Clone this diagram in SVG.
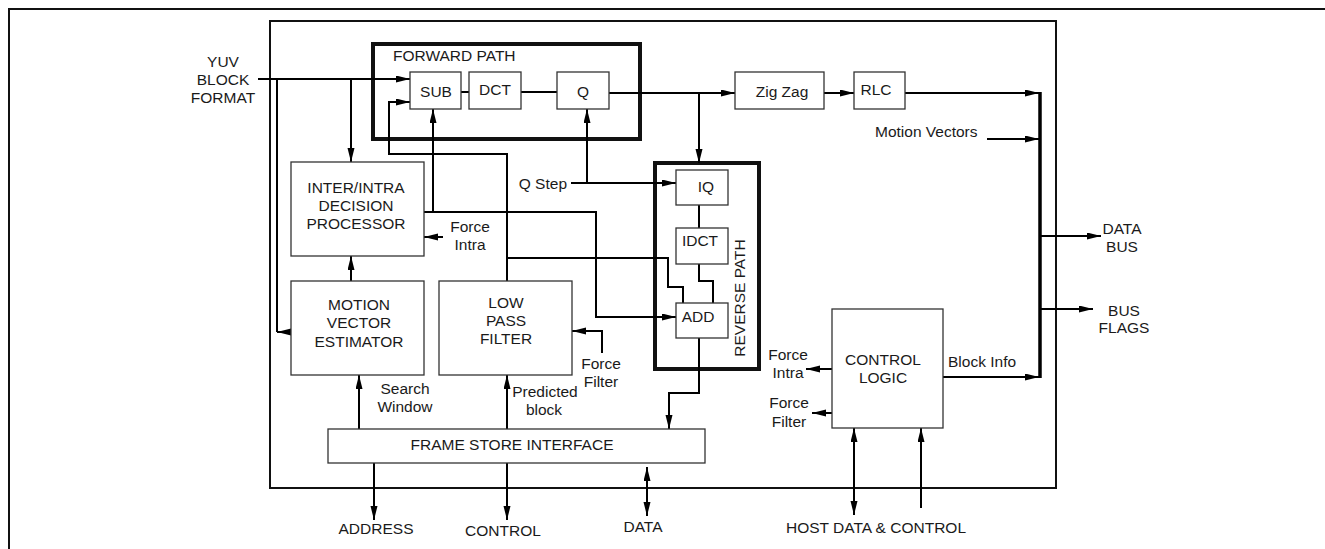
<svg xmlns="http://www.w3.org/2000/svg" width="1325" height="549" viewBox="0 0 1325 549">
<style>
text{font-family:"Liberation Sans",Arial,sans-serif;font-size:15.5px;fill:#1a1a1a}
.m{text-anchor:middle}
.box{fill:#fff;stroke:#333;stroke-width:1.3}
.frame{fill:none;stroke:#111;stroke-width:4}
.c{fill:none;stroke:#000;stroke-width:2}
.a{marker-end:url(#ah)}
.d{marker-start:url(#ah);marker-end:url(#ah)}
</style>
<defs>
<marker id="ah" markerUnits="userSpaceOnUse" markerWidth="15" markerHeight="8" refX="14" refY="3.5" orient="auto-start-reverse">
<path d="M0,0 L14,3.5 L0,7 z" fill="#000"/>
</marker>
</defs>
<path d="M9,549 V9 H1325" fill="none" stroke="#111" stroke-width="2"/>
<rect x="270" y="21" width="786" height="467" fill="none" stroke="#111" stroke-width="2"/>
<g id="forward-path"><rect class="frame" x="373" y="44" width="267" height="95"/><text x="393" y="61">FORWARD PATH</text></g>
<g id="reverse-path"><rect class="frame" x="655" y="163" width="104" height="206"/><text class="m" transform="translate(745,298) rotate(-90)">REVERSE PATH</text></g>
<g id="connectors">
<path class="c a" d="M258,79 H410"/>
<path class="c" d="M277,79 V332"/>
<path class="c a" d="M291,332 H277"/>
<path class="c a" d="M351,79 V162"/>
<path class="c a" d="M351,281 V256"/>
<path class="c a" d="M571,183 H676"/>
<path class="c a" d="M587,183 V109"/>
<path class="c a" d="M424,212 H596 V317 H676"/>
<path class="c a" d="M433,212 V109"/>
<path class="c a" d="M507,281 V154 H389 V102 H410"/>
<path class="c" d="M507,258 H668 V287 H683 V303"/>
<path class="c" d="M699,205 V228"/>
<path class="c" d="M699,264 V281 H713 V303"/>
<path class="c a" d="M699,338 V393 H669 V429"/>
<path class="c" d="M461,92 H469"/>
<path class="c" d="M521,92 H557"/>
<path class="c a" d="M609,93 H735"/>
<path class="c a" d="M699,93 V163"/>
<path class="c a" d="M824,93 H854"/>
<path class="c a" d="M905,93 H1039"/>
<path class="c a" d="M987,139 H1039"/>
<path d="M1040,92 V378" fill="none" stroke="#000" stroke-width="3.5"/>
<path class="c a" d="M1040,236 H1101"/>
<path class="c a" d="M1040,309 H1093"/>
<path class="c a" d="M943,377 H1039"/>
<path class="c a" d="M832,369 H806"/>
<path class="c a" d="M832,413 H812"/>
<path class="c d" d="M854,428 V515"/>
<path class="c a" d="M921,508 V428"/>
<path class="c a" d="M443,237 H424"/>
<path class="c a" d="M602,353 V331 H572"/>
<path class="c a" d="M359,429 V375"/>
<path class="c a" d="M507,429 V375"/>
<path class="c a" d="M374,463 V520"/>
<path class="c a" d="M507,463 V520"/>
<path class="c d" d="M647,467 V516"/>
</g>
<g id="sub"><rect class="box" x="410" y="72" width="51" height="37"/><text class="m" x="436" y="97">SUB</text></g>
<g id="dct"><rect class="box" x="469" y="72" width="52" height="37"/><text class="m" x="495" y="95">DCT</text></g>
<g id="q"><rect class="box" x="557" y="72" width="52" height="37"/><text class="m" x="583" y="97">Q</text></g>
<g id="zigzag"><rect class="box" x="735" y="72" width="89" height="37"/><text class="m" x="782" y="97">Zig Zag</text></g>
<g id="rlc"><rect class="box" x="854" y="72" width="51" height="37"/><text class="m" x="876" y="95">RLC</text></g>
<g id="iq"><rect class="box" x="676" y="170" width="52" height="35"/><text class="m" x="706" y="192">IQ</text></g>
<g id="idct"><rect class="box" x="676" y="228" width="52" height="36"/><text class="m" x="700" y="246">IDCT</text></g>
<g id="add"><rect class="box" x="676" y="303" width="52" height="35"/><text class="m" x="698" y="322">ADD</text></g>
<g id="inter-intra"><rect class="box" x="291" y="162" width="133" height="94"/><text class="m" x="356" y="193">INTER/INTRA</text><text class="m" x="356" y="211">DECISION</text><text class="m" x="356" y="229">PROCESSOR</text></g>
<g id="mve"><rect class="box" x="291" y="281" width="133" height="94"/><text class="m" x="359" y="310">MOTION</text><text class="m" x="359" y="328">VECTOR</text><text class="m" x="359" y="347">ESTIMATOR</text></g>
<g id="lpf"><rect class="box" x="439" y="281" width="133" height="94"/><text class="m" x="506" y="308">LOW</text><text class="m" x="506" y="326">PASS</text><text class="m" x="506" y="344">FILTER</text></g>
<g id="control-logic"><rect class="box" x="832" y="309" width="111" height="119"/><text class="m" x="883" y="365">CONTROL</text><text class="m" x="883" y="383">LOGIC</text></g>
<g id="fsi"><rect class="box" x="328" y="429" width="377" height="34"/><text class="m" x="512" y="450">FRAME STORE INTERFACE</text></g>
<g id="labels">
<text class="m" x="223" y="67">YUV</text><text class="m" x="223" y="85">BLOCK</text><text class="m" x="223" y="103">FORMAT</text>
<text x="567" y="189" text-anchor="end">Q Step</text>
<text class="m" x="470" y="232">Force</text><text class="m" x="470" y="250">Intra</text>
<text x="875" y="137">Motion Vectors</text>
<text class="m" x="601" y="369">Force</text><text class="m" x="601" y="387">Filter</text>
<text class="m" x="405" y="394">Search</text><text class="m" x="405" y="412">Window</text>
<text class="m" x="545" y="397">Predicted</text><text class="m" x="544" y="415">block</text>
<text class="m" x="376" y="534">ADDRESS</text><text class="m" x="503" y="536">CONTROL</text><text class="m" x="643" y="532">DATA</text>
<text class="m" x="876" y="533">HOST DATA &amp; CONTROL</text>
<text class="m" x="788" y="360">Force</text><text class="m" x="788" y="378">Intra</text>
<text class="m" x="789" y="408">Force</text><text class="m" x="789" y="427">Filter</text>
<text x="948" y="367">Block Info</text>
<text class="m" x="1122" y="234">DATA</text><text class="m" x="1122" y="252">BUS</text>
<text class="m" x="1124" y="316">BUS</text><text class="m" x="1124" y="333">FLAGS</text>
</g>
</svg>
